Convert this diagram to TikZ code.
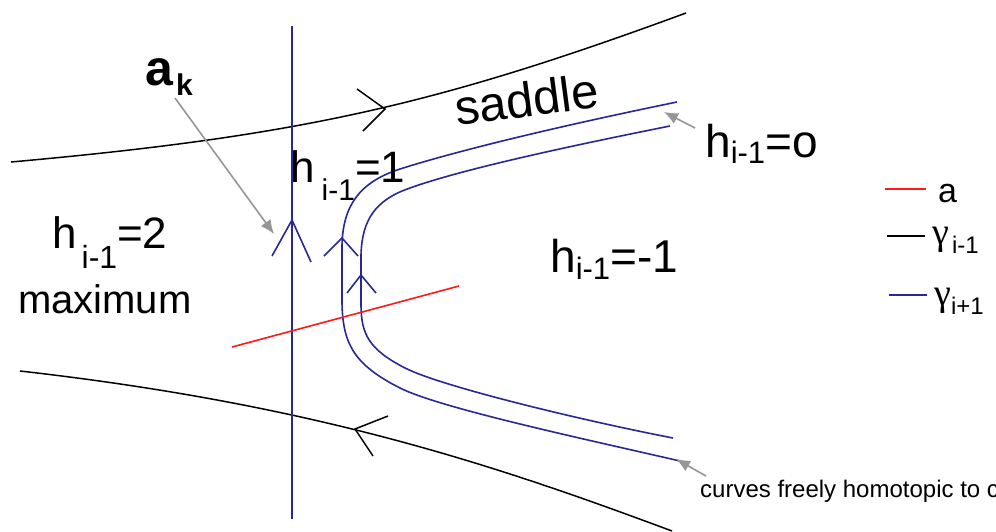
\documentclass[tikz,border=0pt]{standalone}
\usepackage{fontspec}
\setmainfont{Liberation Sans}
\newfontfamily\grk{Liberation Serif}
\usetikzlibrary{arrows.meta}
\definecolor{navyline}{RGB}{40,40,150}
\definecolor{redline}{RGB}{255,25,25}
\definecolor{pointer}{RGB}{150,150,150}
\newcommand{\fsz}[1]{\fontsize{#1}{#1}\selectfont}
\begin{document}
\begin{tikzpicture}[x=1pt,y=-1pt,
  gam/.style={black,line width=1.5pt},
  nav/.style={navyline,line width=1.6pt},
  redl/.style={redline,line width=1.6pt},
  ptr/.style={pointer,line width=1.6pt,-{Latex[length=14pt,width=12pt]}},
  lab/.style={inner sep=0pt,anchor=base west,font=\fsz{44}},
  leg/.style={inner sep=0pt,anchor=base west,font=\fsz{34}}]
\useasboundingbox (0,0) rectangle (996,531);
\fill[white] (0,0) rectangle (996,531);
% black curves gamma_{i-1}
\draw[gam] (11,162) .. controls (300,136) and (436,105) .. (686,13);
\draw[gam] (357,89) -- (385,109) -- (363,131);
\draw[gam] (20,371) .. controls (320,405) and (500,467) .. (672,531);
\draw[gam] (388,416) -- (355,429) -- (373,456);
% vertical blue line
\draw[nav] (292,26) -- (292,519);
\draw[nav] (272,256) -- (292,220) -- (311,262);
% blue curves gamma_{i+1}
\draw[nav] (677,102) .. controls (560,126) and (460,150) .. (400,169)
  .. controls (360,182) and (343,205) .. (342,245) -- (342,300)
  .. controls (342,345) and (355,365) .. (400,388)
  .. controls (440,408) and (580,438) .. (680,461);
\draw[nav] (324,256) -- (342,238) -- (358,256);
\draw[nav] (670,126) .. controls (560,148) and (460,170) .. (410,188)
  .. controls (375,200) and (362,220) .. (361,255) -- (361,305)
  .. controls (361,335) and (370,350) .. (405,368)
  .. controls (440,386) and (580,420) .. (673,438);
\draw[nav] (347,293) -- (361,275) -- (376,293);
% red arc a
\draw[redl] (232,347) -- (459,286);
% labels
\node[lab,font=\bfseries\fsz{50}] (ak) at (145,85) {a\hspace{3pt}\raisebox{-10pt}{\fsz{30}k}};
\node[lab] (hone) at (290,182) {h\hspace{7pt}\raisebox{-18pt}{\fsz{30}i-1}=1};
\node[lab] (htwo) at (52,248) {h\hspace{5pt}\raisebox{-20pt}{\fsz{32}i-1}=2};
\node[lab,font=\fsz{40}] (max) at (18,313) {maximum};
\node[lab,rotate=7.5,font=\fsz{49}] (sad) at (457,126) {saddle};
\node[lab,font=\fsz{46}] (hzero) at (705,157) {h\raisebox{-6pt}{\fsz{31}i-1}=o};
\node[lab,font=\fsz{46}] (hmin) at (550,272) {h\raisebox{-7pt}{\fsz{31}i-1}=-1};
\node[lab,font=\fsz{24}] (note) at (700,497) {curves freely homotopic to c};
% pointer arrows
\coordinate (akS) at (175,98);
\coordinate (akT) at (274,234);
\coordinate (hzS) at (695,128);
\coordinate (hzT) at (664,112);
\coordinate (ntS) at (706,476);
\coordinate (ntT) at (676,459);
\draw[ptr] (akS) -- (akT);
\draw[ptr] (hzS) -- (hzT);
\draw[ptr] (ntS) -- (ntT);
% legend
\coordinate (lra) at (885,189); \coordinate (lrb) at (926,189);
\coordinate (lka) at (887,236); \coordinate (lkb) at (925,236);
\coordinate (lba) at (889,295); \coordinate (lbb) at (927,295);
\draw[redl] (lra) -- (lrb);
\draw[gam] (lka) -- (lkb);
\draw[nav] (lba) -- (lbb);
\node[leg] (la) at (938,202) {a};
\node[leg,font=\fsz{38}] (lg1) at (932,244) {{\grk γ}\hspace{3pt}\raisebox{-9pt}{\fsz{24}i-1}};
\node[leg,font=\fsz{38}] (lg2) at (934,305) {{\grk γ}\raisebox{-9pt}{\fsz{24}i+1}};
\end{tikzpicture}
\end{document}
